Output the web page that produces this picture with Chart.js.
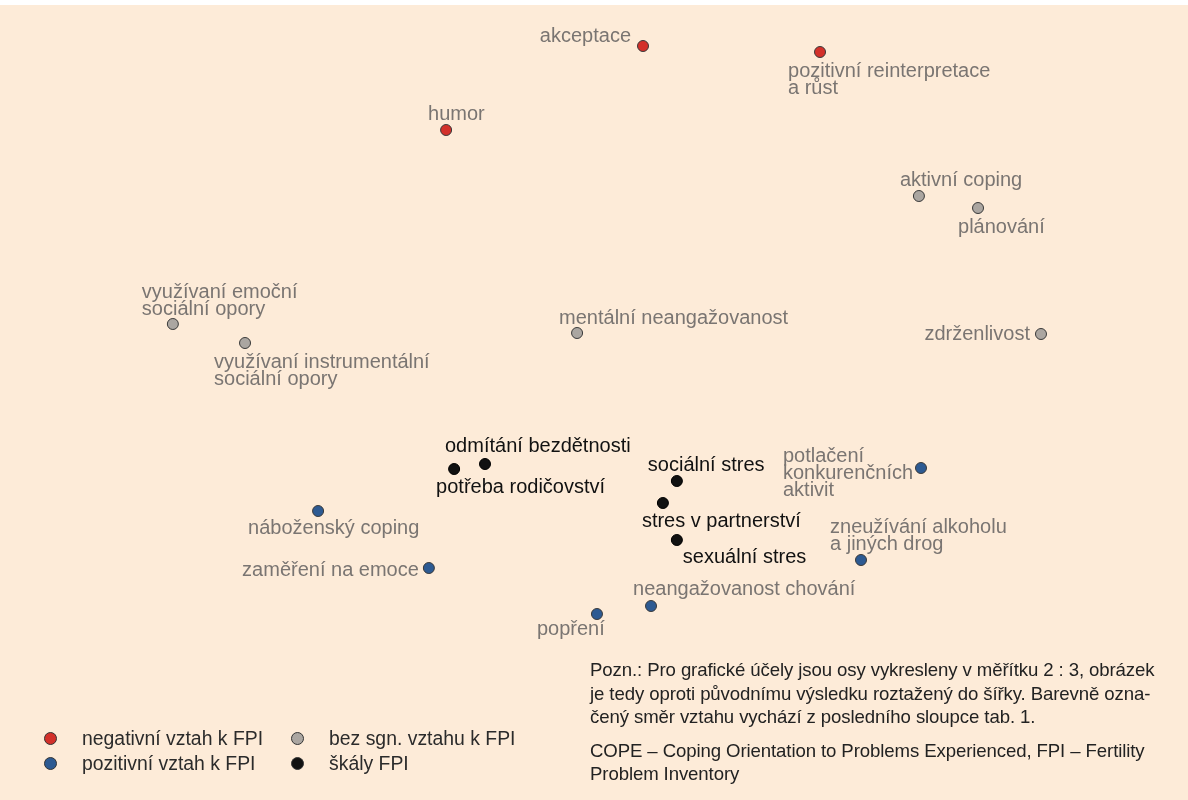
<!DOCTYPE html>
<html>
<head>
<meta charset="utf-8">
<script src="https://cdn.jsdelivr.net/npm/chart.js@4.4.1/dist/chart.umd.min.js"></script>
<style>
  body { margin: 0; background: #fff; }
  #wrap { position: relative; width: 1188px; height: 800px; }
  canvas { position: absolute; left: 0; top: 0; }
  .legend { position: absolute; left: 44px; top: 726px; font-family: 'Liberation Sans', Arial, sans-serif; font-size: 19.4px; color: #2b2b2b; }
  .legend .item { position: absolute; white-space: nowrap; line-height: 24px; }
  .legend .dot { position: absolute; width: 11px; height: 11px; border-radius: 50%; border: 1px solid #333; top: 5.5px; }
  .note { position: absolute; left: 590px; top: 658px; white-space: nowrap; font-family: 'Liberation Sans', Arial, sans-serif; font-size: 18.6px; line-height: 23.5px; color: #222; letter-spacing: -0.1px; }
  .note p { margin: 0 0 10px 0; }
</style>
</head>
<body>
<div id="wrap">
  <canvas id="chart" width="1188" height="800"></canvas>
  <div class="legend" id="legend"></div>
  <div class="note">
    <p>Pozn.: Pro grafické účely jsou osy vykresleny v měřítku 2 : 3, obrázek<br>je tedy oproti původnímu výsledku roztažený do šířky. Barevně ozna-<br>čený směr vztahu vychází z posledního sloupce tab. 1.</p>
    <p>COPE – Coping Orientation to Problems Experienced, FPI – Fertility<br>Problem Inventory</p>
  </div>
</div>
<script>
// skupiny bodů (dimenze 1 = x, dimenze 2 = y)
const negLabels = ["akceptace", "pozitivní reinterpretace\na růst", "humor"];
const negX = [0.165, 0.761, -0.498];
const negY = [1.416, 1.392, 1.080];

const neutralLabels = ["aktivní coping", "plánování", "využívaní emoční\nsociální opory", "využívaní instrumentální\nsociální opory", "mentální neangažovanost", "zdrženlivost"];
const neutralX = [1.094, 1.293, -1.418, -1.175, -0.057, 1.505];
const neutralY = [0.816, 0.768, 0.304, 0.228, 0.268, 0.264];

const posLabels = ["potlačení\nkonkurenčních\naktivit", "náboženský coping", "zaměření na emoce", "zneužívání alkoholu\na jiných drog", "neangažovanost chování", "popření"];
const posX = [1.101, -0.929, -0.556, 0.899, 0.192, 0.010];
const posY = [-0.272, -0.444, -0.672, -0.640, -0.824, -0.856];

const fpiLabels = ["odmítání bezdětnosti", "potřeba rodičovství", "sociální stres", "stres v partnerství", "sexuální stres"];
const fpiX = [-0.367, -0.471, 0.279, 0.232, 0.279];
const fpiY = [-0.256, -0.276, -0.324, -0.412, -0.560];

const legendNames = ["negativní vztah k FPI", "pozitivní vztah k FPI", "bez sgn. vztahu k FPI", "škály FPI"];

// umístění popisků vůči bodu: [dx, dy, zarovnání]
const negPlace = [[-12, -10, "right"], [-32, 19, "left"], [-18, -16, "left"]];
const neutralPlace = [[-19, -16, "left"], [-20, 19, "left"], [-31, -32, "left"], [-31, 19, "left"], [-18, -15, "left"], [-11, 0, "right"]];
const posPlace = [[-138, -12, "left"], [-70, 17, "left"], [-10, 2, "right"], [-31, -33, "left"], [-18, -17, "left"], [-60, 15, "left"]];
const fpiPlace = [[-40, -18, "left"], [-18, 18, "left"], [-29, -16, "left"], [-21, 18, "left"], [6, 17, "left"]];

const COL_RED = "#d3302a";
const COL_BLUE = "#2d5a92";
const COL_GRAY = "#aba6a1";
const COL_BLACK = "#111111";
const TEXT_GRAY = "#7a7572";

function pts(xs, ys) {
    return xs.map((x, i) => ({ x: x, y: ys[i] }));
}

function makeSet(name, xs, ys, color, labels, place, textColor) {
    return {
        label: name,
        data: pts(xs, ys),
        backgroundColor: color,
        borderColor: color === COL_BLACK ? "#000" : "#3a3a3a",
        borderWidth: 1,
        pointRadius: 5.5,
        pointHoverRadius: 5.5,
        texts: labels,
        place: place,
        textColor: textColor
    };
}

const bgPlugin = {
    id: "bg",
    beforeDraw(chart) {
        const ctx = chart.ctx;
        ctx.save();
        ctx.fillStyle = "#ffffff";
        ctx.fillRect(0, 0, chart.width, 5);
        ctx.fillStyle = "#fdebd8";
        ctx.fillRect(0, 5, chart.width, chart.height - 5);
        ctx.restore();
    }
};

const labelPlugin = {
    id: "pointLabels",
    afterDatasetsDraw(chart) {
        const ctx = chart.ctx;
        ctx.save();
        ctx.font = "20px 'Liberation Sans', Arial, sans-serif";
        ctx.textBaseline = "middle";
        chart.data.datasets.forEach((ds, di) => {
            const meta = chart.getDatasetMeta(di);
            meta.data.forEach((el, i) => {
                const p = ds.place[i];
                const lines = ds.texts[i].split("\n");
                ctx.fillStyle = ds.textColor;
                ctx.textAlign = p[2];
                lines.forEach((ln, k) => {
                    ctx.fillText(ln, el.x + p[0], el.y + p[1] + k * 17);
                });
            });
        });
        ctx.restore();
    }
};

new Chart(document.getElementById("chart"), {
    type: "scatter",
    data: {
        datasets: [
            makeSet(legendNames[0], negX, negY, COL_RED, negLabels, negPlace, TEXT_GRAY),
            makeSet(legendNames[2], neutralX, neutralY, COL_GRAY, neutralLabels, neutralPlace, TEXT_GRAY),
            makeSet(legendNames[1], posX, posY, COL_BLUE, posLabels, posPlace, TEXT_GRAY),
            makeSet(legendNames[3], fpiX, fpiY, COL_BLACK, fpiLabels, fpiPlace, COL_BLACK)
        ]
    },
    options: {
        responsive: false,
        animation: false,
        layout: { padding: 0, autoPadding: false },
        scales: {
            x: { type: "linear", display: false, min: -2, max: 2 },
            y: { type: "linear", display: false, min: -1.6, max: 1.6 }
        },
        plugins: {
            legend: { display: false },
            tooltip: { enabled: false }
        }
    },
    plugins: [bgPlugin, labelPlugin]
});

// legenda vlevo dole
const legendCols = [COL_RED, COL_BLUE, COL_GRAY, COL_BLACK];
const legendPos = [[0, 0], [0, 25], [247, 0], [247, 25]];
const legendEl = document.getElementById("legend");
legendNames.forEach((name, i) => {
    const item = document.createElement("div");
    item.className = "item";
    item.style.left = legendPos[i][0] + "px";
    item.style.top = legendPos[i][1] + "px";
    item.innerHTML = '<span class="dot" style="background:' + legendCols[i] + '"></span><span style="margin-left:38px">' + name + '</span>';
    legendEl.appendChild(item);
});
</script>
</body>
</html>
